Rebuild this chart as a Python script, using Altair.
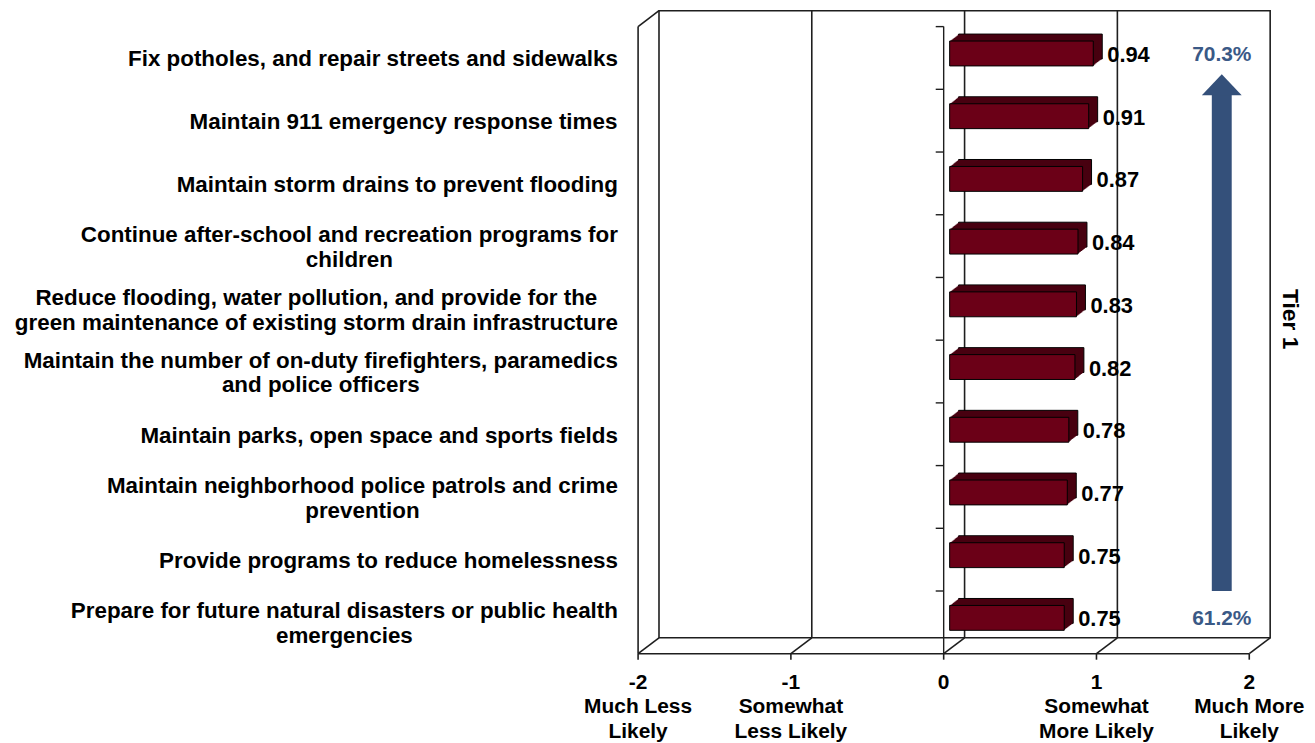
import altair as alt
import pandas as pd

# ---------------- data ----------------
CATEGORIES = [
    "Fix potholes, and repair streets and sidewalks",
    "Maintain 911 emergency response times",
    "Maintain storm drains to prevent flooding",
    "Continue after-school and recreation programs for\nchildren",
    "Reduce flooding, water pollution, and provide for the\ngreen maintenance of existing storm drain infrastructure",
    "Maintain the number of on-duty firefighters, paramedics\nand police officers",
    "Maintain parks, open space and sports fields",
    "Maintain neighborhood police patrols and crime\nprevention",
    "Provide programs to reduce homelessness",
    "Prepare for future natural disasters or public health\nemergencies",
]
VALUES = [0.94, 0.91, 0.87, 0.84, 0.83, 0.82, 0.78, 0.77, 0.75, 0.75]
TICK_VALUES = [-2, -1, 0, 1, 2]
TICK_TEXT = ["Much Less\nLikely", "Somewhat\nLess Likely", "", "Somewhat\nMore Likely", "Much More\nLikely"]
PCT_TOP = "70.3%"
PCT_BOTTOM = "61.2%"
TIER = "Tier 1"
ARROW_X = 1.82

# ---------------- style ----------------
W, H = 614, 630
DX, DY = 21, -16            # depth of the 3-D box (px)
BDX, BDY = 9, -7            # depth of each bar (px)
BAR_SHIFT = 6
FONT = "Liberation Sans"
LINE = "#1e1e1e"
BAR_FRONT = "#6B0017"
BAR_SIDE = "#480010"
BLUE = "#34507A"
BLUE_TXT = "#3A5986"
CAT_SIZE = 22.5
CAT_LH = 25

# Arial/Helvetica bold advance widths (per 1000 em) for label block centring
HB = {' ': 278, ',': 278, '-': 333, '.': 278, '0': 556, '1': 556, '9': 556,
      'A': 722, 'C': 722, 'F': 611, 'M': 833, 'P': 667, 'R': 722,
      'a': 556, 'b': 611, 'c': 556, 'd': 611, 'e': 556, 'f': 333, 'g': 611,
      'h': 611, 'i': 278, 'j': 278, 'k': 556, 'l': 278, 'm': 889, 'n': 611,
      'o': 611, 'p': 611, 'q': 611, 'r': 389, 's': 556, 't': 333, 'u': 611,
      'v': 556, 'w': 778, 'x': 556, 'y': 556, 'z': 500}


def text_w(s, size):
    return sum(HB.get(c, 556) for c in s) * size / 1000.0


n = len(CATEGORIES)
unit = H / n
bars = pd.DataFrame({
    "cat": CATEGORIES,
    "value": VALUES,
    "pos": [i + 0.5 for i in range(n)],
    "zero": [0.0] * n,
})
bars["label"] = [f"{v:.2f}" for v in VALUES]
bars["lab_x"] = [-20 - max(text_w(l, CAT_SIZE) for l in c.split("\n")) / 2 for c in CATEGORIES]
bars["lab_y"] = [p - (c.count("\n") * CAT_LH / 2) / unit for p, c in zip(bars.pos, CATEGORIES)]

ticks = pd.DataFrame({"x": TICK_VALUES, "top": [0.0] * 5, "bottom": [float(n)] * 5,
                      "txt": [str(v) + ("\n" + t if t else "") for v, t in zip(TICK_VALUES, TICK_TEXT)]})
inner = ticks[ticks.x.isin([-1, 0, 1])]
yticks = pd.DataFrame({"y": [float(i) for i in range(n)], "zero": [0.0] * n})
box = pd.DataFrame({"x1": [-2.0], "x2": [2.0], "y1": [0.0], "y2": [float(n)]})
pct = pd.DataFrame({"x": [ARROW_X, ARROW_X], "y": [0.5, n - 0.5], "t": [PCT_TOP, PCT_BOTTOM]})
head_h = 21 / unit
tip = 0.76
arrow = pd.DataFrame({"x": [ARROW_X], "y1": [n - 1.0], "y2": [tip + head_h - 0.03], "yh": [tip + head_h / 2]})
tier = pd.DataFrame({"x": [2.0], "y": [n / 2], "t": [TIER]})

XS = alt.Scale(domain=[-2, 2], nice=False, zero=False)
YS = alt.Scale(domain=[0, n], reverse=True, nice=False, zero=False)


def X(f):
    return alt.X(f, type="quantitative", scale=XS, axis=None)


def Y(f):
    return alt.Y(f, type="quantitative", scale=YS, axis=None)


layers = []

# back wall
layers.append(alt.Chart(box).mark_rect(fillOpacity=0, stroke=LINE, strokeWidth=1.6,
                                       xOffset=DX, x2Offset=DX, yOffset=DY, y2Offset=DY)
              .encode(x=X("x1"), x2="x2", y=Y("y1"), y2="y2"))
# back gridlines
layers.append(alt.Chart(inner).mark_rule(color=LINE, strokeWidth=1.6, xOffset=DX, yOffset=DY, y2Offset=DY)
              .encode(x=X("x"), y=Y("top"), y2="bottom"))
# floor diagonals
layers.append(alt.Chart(ticks).mark_rule(color=LINE, strokeWidth=1.6, x2Offset=DX, y2Offset=DY)
              .encode(x=X("x"), x2="x", y=Y("bottom"), y2="bottom"))
# front floor line (x axis domain)
layers.append(alt.Chart(box).mark_rule(color=LINE, strokeWidth=1.6)
              .encode(x=X("x1"), x2="x2", y=Y("y2")))
# x ticks
layers.append(alt.Chart(ticks).mark_rule(color=LINE, strokeWidth=1.6, y2Offset=6)
              .encode(x=X("x"), y=Y("bottom"), y2="bottom"))
# x tick labels
layers.append(alt.Chart(ticks).mark_text(align="center", baseline="top", lineBreak="\n",
                                         lineHeight=24.5, yOffset=18.5, font=FONT, fontSize=21,
                                         fontWeight="bold", color="black")
              .encode(x=X("x"), y=Y("bottom"), text="txt"))
# left side wall
left = ticks[ticks.x == -2]
layers.append(alt.Chart(left).mark_rule(color=LINE, strokeWidth=1.6)
              .encode(x=X("x"), y=Y("top"), y2="bottom"))
layers.append(alt.Chart(left).mark_rule(color=LINE, strokeWidth=1.6, x2Offset=DX, y2Offset=DY)
              .encode(x=X("x"), x2="x", y=Y("top"), y2="top"))
# category axis at zero
zero = ticks[ticks.x == 0]
layers.append(alt.Chart(zero).mark_rule(color=LINE, strokeWidth=1.4)
              .encode(x=X("x"), y=Y("top"), y2="bottom"))
layers.append(alt.Chart(yticks).mark_rule(color=LINE, strokeWidth=1.4, xOffset=-8)
              .encode(x=X("zero"), x2="zero", y=Y("y")))

# bars: extrusion then front face
for k in range(9, 0, -1):
    ox = BAR_SHIFT + k
    oy = k * BDY / BDX
    kw = dict(stroke="black", strokeWidth=1) if k == 9 else dict(strokeWidth=0)
    layers.append(alt.Chart(bars).mark_rect(fill=BAR_SIDE, xOffset=ox, x2Offset=ox,
                                            yOffset=-17 + oy, y2Offset=8 + oy, **kw)
                  .encode(x=X("zero"), x2="value", y=Y("pos"), y2="pos"))
layers.append(alt.Chart(bars).mark_rect(fill=BAR_FRONT, stroke="black", strokeWidth=1,
                                        xOffset=BAR_SHIFT, x2Offset=BAR_SHIFT, yOffset=-17, y2Offset=8)
              .encode(x=X("zero"), x2="value", y=Y("pos"), y2="pos"))

# value labels
layers.append(alt.Chart(bars).mark_text(align="left", baseline="middle", dx=20, yOffset=-3,
                                        font=FONT, fontSize=22, fontWeight="bold", color="black")
              .encode(x=X("value"), y=Y("pos"), text="label"))
# category labels
layers.append(alt.Chart(bars).mark_text(align="center", baseline="middle", lineBreak="\n",
                                        lineHeight=CAT_LH, yOffset=1.5, font=FONT, fontSize=CAT_SIZE,
                                        fontWeight="bold", color="black")
              .encode(x=alt.X("lab_x:Q", scale=None), y=Y("lab_y"), text="cat"))

# arrow
layers.append(alt.Chart(arrow).mark_rule(color=BLUE, strokeWidth=20, strokeCap="butt")
              .encode(x=X("x"), y=Y("y1"), y2="y2"))
layers.append(alt.Chart(arrow).mark_point(shape="M0,-0.525L1,0.525L-1,0.525Z", size=1600,
                                          filled=True, fill=BLUE, opacity=1, strokeWidth=0)
              .encode(x=X("x"), y=Y("yh")))
layers.append(alt.Chart(pct).mark_text(align="center", baseline="middle", yOffset=-3, font=FONT,
                                       fontSize=21, fontWeight="bold", color=BLUE_TXT)
              .encode(x=X("x"), y=Y("y"), text="t"))
# tier label
layers.append(alt.Chart(tier).mark_text(align="center", baseline="middle", angle=90, xOffset=41,
                                        yOffset=-21, font=FONT, fontSize=23, fontWeight="bold",
                                        color="black")
              .encode(x=X("x"), y=Y("y"), text="t"))

chart = alt.layer(*layers).properties(
    width=W, height=H,
    autosize=alt.AutoSizeParams(type="none"),
    padding={"left": 633, "top": 17, "right": 58, "bottom": 88},
    background="white",
).configure_view(stroke=None)

chart.save("out.html", embed_options={"renderer": "svg", "actions": False})
